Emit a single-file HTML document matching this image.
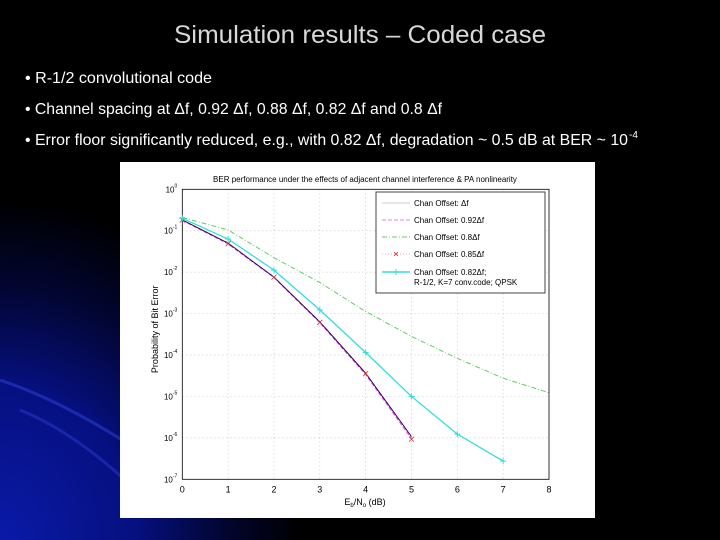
<!DOCTYPE html>
<html><head><meta charset="utf-8"><style>
html,body{margin:0;padding:0;background:#000;}
svg{display:block;font-family:"Liberation Sans",Arial,sans-serif;}
</style></head><body>
<svg id="s" width="720" height="540" viewBox="0 0 720 540">
<defs>
<radialGradient id="glow" cx="0" cy="1" r="1">
<stop offset="0" stop-color="#0a1aa8"/><stop offset="0.45" stop-color="#061080"/><stop offset="0.75" stop-color="#020530"/><stop offset="1" stop-color="#000"/>
</radialGradient>
</defs>
<rect width="720" height="540" fill="#000"/>
<rect x="0" y="200" width="300" height="340" fill="url(#glow)"/>
<path d="M0 380 Q60 400 130 445" stroke="#2a3ad0" stroke-width="3" fill="none" opacity="0.6"/>
<path d="M20 410 Q70 430 125 480" stroke="#2a3ad0" stroke-width="3" fill="none" opacity="0.5"/>
<text x="174" y="43" font-size="25" fill="#d8d8d8" textLength="372" lengthAdjust="spacingAndGlyphs">Simulation results – Coded case</text>
<text x="25" y="83" font-size="16" fill="#fff" textLength="187" lengthAdjust="spacingAndGlyphs">• R-1/2 convolutional code</text>
<text x="25" y="114" font-size="16" fill="#fff" textLength="417" lengthAdjust="spacingAndGlyphs">• Channel spacing at Δf, 0.92 Δf, 0.88 Δf, 0.82 Δf and 0.8 Δf</text>
<text x="25" y="145" font-size="16" fill="#fff" textLength="603" lengthAdjust="spacingAndGlyphs">• Error floor significantly reduced, e.g., with 0.82 Δf, degradation ~ 0.5 dB at BER ~ 10</text>
<text x="629" y="138" font-size="10" fill="#fff">-4</text>
<rect x="120" y="162" width="475" height="356" fill="#fff"/>
<g id="chart"></g>
</svg>
<script>
const xTicks=[0,1,2,3,4,5,6,7,8];
const yExps=[0,-1,-2,-3,-4,-5,-6,-7];
const xBlue=[0,1,2,3,4,5];
const berBlue=[-0.74,-1.30,-2.12,-3.20,-4.44,-5.97];
const berMagenta=[-0.75,-1.32,-2.13,-3.22,-4.47,-6.02];
const ber085=[-0.74,-1.31,-2.12,-3.21,-4.45,-6.03];
const xCyan=[0,1,2,3,4,5,6,7];
const berCyan=[-0.70,-1.20,-1.95,-2.91,-3.94,-5.0,-5.91,-6.56];
const xGreen=[0,1,2,3,4,5,6,7,8];
const berGreen=[-0.68,-0.98,-1.65,-2.25,-2.95,-3.55,-4.08,-4.56,-4.91];
const legendLabels=["Chan Offset: Δf","Chan Offset: 0.92Δf","Chan Offset: 0.8Δf","Chan Offset: 0.85Δf","Chan Offset: 0.82Δf;"];

const L=182.3,R=549,T=189.3,B=479.3;
const sx=v=>L+(v-0)/(8-0)*(R-L);
const sy=e=>T+(0-e)/(0-(-7))*(B-T);
const g=document.getElementById('chart');
const NS='http://www.w3.org/2000/svg';
function mk(tag,attrs,parent){const e=document.createElementNS(NS,tag);for(const k in attrs)e.setAttribute(k,attrs[k]);(parent||g).appendChild(e);return e;}

xTicks.forEach(v=>{
 if(v>0&&v<8){const l=mk('line',{x1:sx(v),x2:sx(v),y1:T,y2:B,stroke:'#bbb','stroke-dasharray':'1 3','stroke-width':0.7});
 
 }
 const t=mk('text',{x:sx(v),y:B+13,'font-size':9,'text-anchor':'middle',fill:'#000'});t.textContent=v;
 
 
});
yExps.forEach(e=>{
 if(e<0&&e>-7){const l=mk('line',{x1:L,x2:R,y1:sy(e),y2:sy(e),stroke:'#bbb','stroke-dasharray':'1 3','stroke-width':0.7});
 
 }
 const t=mk('text',{x:L-5,y:sy(e)+3,'font-size':8,'text-anchor':'end',fill:'#000'});
 t.innerHTML='10<tspan dy="-5" font-size="5">'+e+'</tspan>';
 
 
});
const ax=mk('rect',{x:L,y:T,width:R-L,height:B-T,fill:'none',stroke:'#000','stroke-width':0.8});



function series(xs,ys,color,dash,name,w){
 const d=xs.map((x,i)=>(i?'L':'M')+sx(x)+' '+sy(ys[i])).join(' ');
 const p=mk('path',{d:d,fill:'none',stroke:color,'stroke-width':w||1,'stroke-dasharray':dash||'none'});
 
 
}
series(xGreen,berGreen,'#66cc66','5 2 1 2','series-0-8df');
series(xCyan,berCyan,'#33dddd','','series-0-82df',1.3);
series(xBlue,berMagenta,'#dd44dd','4 2','series-0-92df');
series(xBlue,berBlue,'#330066','','series-df');
ber085.forEach((v,i)=>{
 const x=sx(xBlue[i]),y=sy(v);
 const m=mk('path',{d:`M${x-2.5} ${y-2.5}L${x+2.5} ${y+2.5}M${x-2.5} ${y+2.5}L${x+2.5} ${y-2.5}`,stroke:'#cc3333','stroke-width':0.8});
 
 
});
berCyan.forEach((v,i)=>{
 const x=sx(xCyan[i]),y=sy(v);
 const m=mk('path',{d:`M${x-3} ${y}L${x+3} ${y}M${x} ${y-3}L${x} ${y+3}`,stroke:'#33dddd','stroke-width':1});
 
 
});

let t=mk('text',{x:365,y:182,'font-size':8,'text-anchor':'middle',fill:'#000'});
t.textContent='BER performance under the effects of adjacent channel interference & PA nonlinearity';


t=mk('text',{x:365,y:505,'font-size':9,'text-anchor':'middle',fill:'#000'});
t.innerHTML='E<tspan dy="2" font-size="6">b</tspan><tspan dy="-2">/N</tspan><tspan dy="2" font-size="6">o</tspan><tspan dy="-2"> (dB)</tspan>';


t=mk('text',{x:0,y:0,'font-size':9,'text-anchor':'middle',fill:'#000',transform:`translate(158,${(T+B)/2-5}) rotate(-90)`});
t.textContent='Probability of Bit Error';



const lg=mk('g',{});


mk('rect',{x:376,y:192,width:169,height:101,fill:'#fff',stroke:'#444','stroke-width':1},lg);
const styles=[['#ccc','',''],['#dd88dd','4 2',''],['#66cc66','5 2 1 2',''],['#ffaaaa','1 2','x'],['#33dddd','','+']];
const ly=[203,220,237,254,272];
legendLabels.forEach((lab,i)=>{
 const e=mk('g',{},lg);
 
 
 mk('line',{x1:382,x2:410,y1:ly[i],y2:ly[i],stroke:styles[i][0],'stroke-dasharray':styles[i][1]||'none','stroke-width':styles[i][2]==='+'?1.5:1},e);
 if(styles[i][2]==='x')mk('path',{d:`M394 ${ly[i]-2}L398 ${ly[i]+2}M394 ${ly[i]+2}L398 ${ly[i]-2}`,stroke:'#cc3333','stroke-width':0.8},e);
 if(styles[i][2]==='+')mk('path',{d:`M396 ${ly[i]-3}L396 ${ly[i]+3}`,stroke:'#33dddd','stroke-width':1},e);
 const tt=mk('text',{x:414,y:ly[i]+3,'font-size':8,fill:'#000'},e);tt.textContent=lab;
});
t=mk('text',{x:414,y:285,'font-size':8,fill:'#000'},lg);
t.textContent='R-1/2, K=7 conv.code; QPSK';
</script>
</body></html>
